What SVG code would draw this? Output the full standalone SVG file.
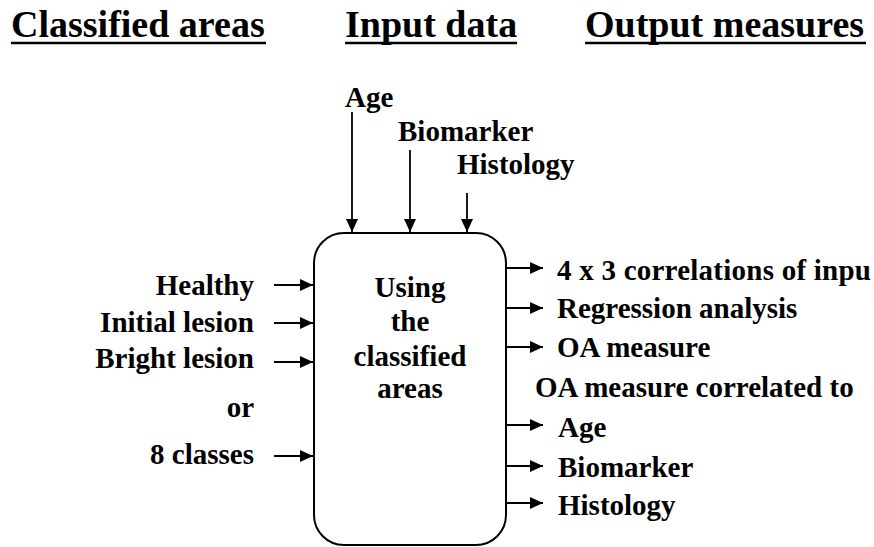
<svg xmlns="http://www.w3.org/2000/svg" width="874" height="547" viewBox="0 0 874 547">
<style>
text{font-family:"Liberation Serif","Times New Roman",Times,serif;font-weight:700;fill:#000}
.title{font-size:38px}
.lbl{font-size:29px}
.ul{stroke:#000;stroke-width:2.5}
.conn{stroke:#000;stroke-width:1.8;fill:none}
.box{fill:#fff;stroke:#000;stroke-width:2}
</style>
<defs>
<marker id="ah" markerUnits="userSpaceOnUse" markerWidth="14" markerHeight="12" refX="13" refY="6" orient="auto">
<path d="M0,0 L13,6 L0,12 Z" fill="#000"/>
</marker>
</defs>
<rect width="874" height="547" fill="#fff"/>
<g id="titles">
<text class="title" x="11" y="37">Classified areas</text>
<line class="ul" x1="11" y1="43" x2="266" y2="43"/>
<text class="title" x="345" y="37">Input data</text>
<line class="ul" x1="345" y1="43" x2="517" y2="43"/>
<text class="title" x="585" y="37">Output measures</text>
<line class="ul" x1="585" y1="43" x2="866" y2="43"/>
</g>
<g id="process">
<rect class="box" x="314" y="233" width="192" height="312" rx="30" ry="30"/>
<text class="lbl" x="410" y="297" text-anchor="middle">Using</text>
<text class="lbl" x="410" y="331" text-anchor="middle">the</text>
<text class="lbl" x="410" y="366" text-anchor="middle">classified</text>
<text class="lbl" x="410" y="398" text-anchor="middle">areas</text>
</g>
<g id="in-healthy"><text class="lbl" x="254" y="295" text-anchor="end">Healthy</text></g>
<g id="in-initial"><text class="lbl" x="254" y="332" text-anchor="end">Initial lesion</text></g>
<g id="in-bright"><text class="lbl" x="254" y="368" text-anchor="end">Bright lesion</text></g>
<g id="in-or"><text class="lbl" x="254" y="417" text-anchor="end">or</text></g>
<g id="in-8classes"><text class="lbl" x="254" y="464" text-anchor="end">8 classes</text></g>
<g id="top-age"><text class="lbl" x="345" y="107">Age</text></g>
<g id="top-biomarker"><text class="lbl" x="398" y="141">Biomarker</text></g>
<g id="top-histology"><text class="lbl" x="457" y="174">Histology</text></g>
<g id="out-corr"><text class="lbl" x="557" y="280" textLength="314" lengthAdjust="spacing">4 x 3 correlations of inpu</text></g>
<g id="out-regression"><text class="lbl" x="557" y="318">Regression analysis</text></g>
<g id="out-oa"><text class="lbl" x="557" y="357">OA measure</text></g>
<g id="out-oacorr"><text class="lbl" x="535" y="397">OA measure correlated to</text></g>
<g id="out-age"><text class="lbl" x="558" y="437">Age</text></g>
<g id="out-biomarker"><text class="lbl" x="558" y="477">Biomarker</text></g>
<g id="out-histology"><text class="lbl" x="558" y="515">Histology</text></g>
<g id="connectors">
<line class="conn" x1="352" y1="112" x2="352" y2="232" marker-end="url(#ah)"/>
<line class="conn" x1="410" y1="150" x2="410" y2="232" marker-end="url(#ah)"/>
<line class="conn" x1="467" y1="193" x2="467" y2="232" marker-end="url(#ah)"/>
<line class="conn" x1="274" y1="285" x2="313" y2="285" marker-end="url(#ah)"/>
<line class="conn" x1="274" y1="323" x2="313" y2="323" marker-end="url(#ah)"/>
<line class="conn" x1="274" y1="362" x2="313" y2="362" marker-end="url(#ah)"/>
<line class="conn" x1="274" y1="456" x2="313" y2="456" marker-end="url(#ah)"/>
<line class="conn" x1="506" y1="268" x2="543" y2="268" marker-end="url(#ah)"/>
<line class="conn" x1="506" y1="308" x2="543" y2="308" marker-end="url(#ah)"/>
<line class="conn" x1="506" y1="347" x2="543" y2="347" marker-end="url(#ah)"/>
<line class="conn" x1="506" y1="425" x2="543" y2="425" marker-end="url(#ah)"/>
<line class="conn" x1="506" y1="466" x2="543" y2="466" marker-end="url(#ah)"/>
<line class="conn" x1="506" y1="503" x2="543" y2="503" marker-end="url(#ah)"/>
</g>
</svg>
